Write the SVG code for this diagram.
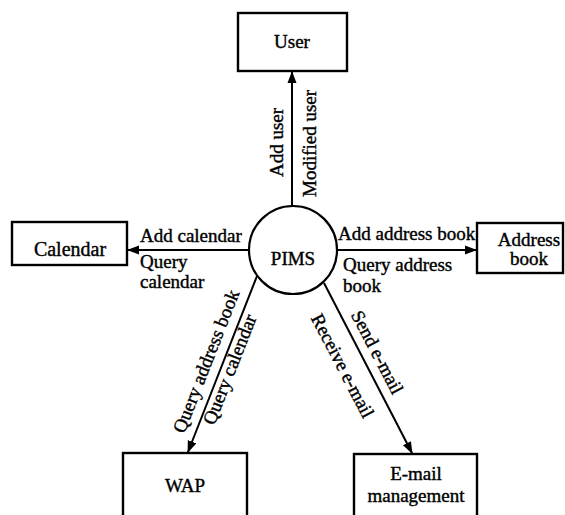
<svg xmlns="http://www.w3.org/2000/svg" width="565" height="515" viewBox="0 0 565 515">
  <defs>
    <marker id="arrow" markerWidth="12" markerHeight="10" refX="11" refY="5" orient="auto" markerUnits="userSpaceOnUse">
      <path d="M0,0.5 L12,5 L0,9.5 Z" fill="#000"/>
    </marker>
    <style>
      .box { fill: #fff; stroke: #000; stroke-width: 2.4; }
      .proc { fill: #fff; stroke: #000; stroke-width: 2.2; }
      .flow { fill: none; stroke: #000; stroke-width: 2; marker-end: url(#arrow); }
      text { font-family: "Liberation Serif", "Times New Roman", serif; font-size: 19px; fill: #000; stroke: #000; stroke-width: 0.4; }
      .c { text-anchor: middle; }
    </style>
  </defs>

  <rect width="565" height="515" fill="#fff"/>

  <!-- data flows -->
  <g id="connectors">
    <line class="flow" x1="292" y1="206" x2="292" y2="72"/>
    <line class="flow" x1="249" y1="250" x2="128" y2="250"/>
    <line class="flow" x1="337" y1="250" x2="476" y2="250"/>
    <line class="flow" x1="257" y1="276" x2="188" y2="452"/>
    <line class="flow" x1="324" y1="283" x2="412" y2="453"/>

    <text transform="translate(283,177) rotate(-90)">Add user</text>
    <text transform="translate(316,197) rotate(-90)">Modified user</text>

    <text x="140" y="242">Add calendar</text>
    <text x="140" y="268">Query</text>
    <text x="140" y="288">calendar</text>

    <text x="338" y="240">Add address book</text>
    <text x="343" y="271">Query address</text>
    <text x="343" y="292">book</text>

    <g transform="translate(257,276) rotate(-68.6)">
      <text class="c" x="-98" y="-10">Query address book</text>
      <text class="c" x="-97" y="15">Query calendar</text>
    </g>

    <g transform="translate(324,283) rotate(62.5)">
      <text class="c" x="86" y="-9">Send e-mail</text>
      <text class="c" x="82" y="28">Receive e-mail</text>
    </g>
  </g>

  <g id="user">
    <rect class="box" x="238" y="13" width="109" height="58"/>
    <text class="c" x="292" y="48">User</text>
  </g>

  <g id="pims">
    <circle class="proc" cx="293" cy="250" r="44"/>
    <text class="c" x="293" y="265">PIMS</text>
  </g>

  <g id="calendar">
    <rect class="box" x="12" y="222" width="115" height="43"/>
    <text class="c" x="70" y="256" style="font-size:20px">Calendar</text>
  </g>

  <g id="address-book">
    <rect class="box" x="477" y="223" width="86" height="50"/>
    <text class="c" x="529" y="246">Address</text>
    <text class="c" x="529" y="265">book</text>
  </g>

  <g id="wap">
    <rect class="box" x="123" y="453" width="124" height="70"/>
    <text class="c" x="185" y="492">WAP</text>
  </g>

  <g id="email-management">
    <rect class="box" x="354" y="454" width="123" height="70"/>
    <text class="c" x="416" y="480">E-mail</text>
    <text class="c" x="416" y="502">management</text>
  </g>
</svg>
